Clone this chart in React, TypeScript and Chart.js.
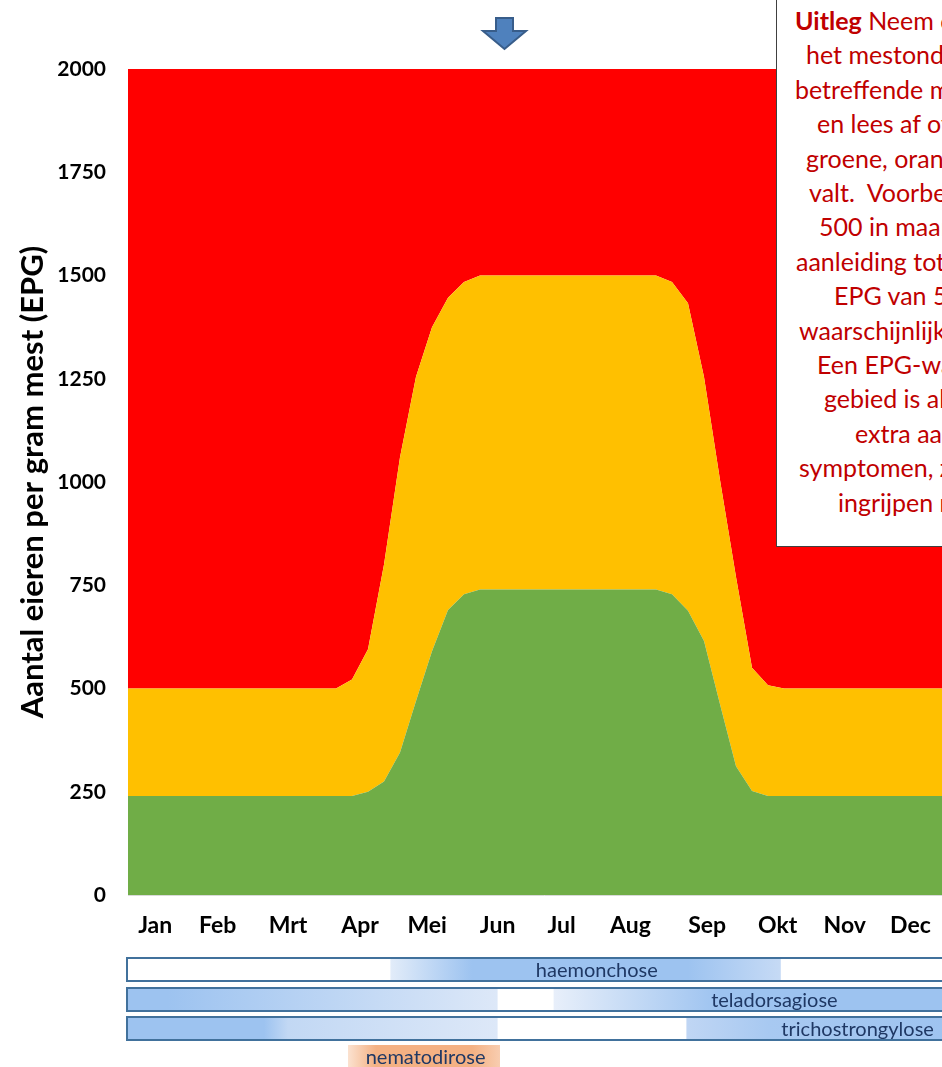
import React, { useEffect, useRef } from 'react';
import { Chart, registerables } from 'chart.js';

Chart.register(...registerables);

// x = week of the year (0..52), y = eggs per gram (EPG)
const weeks = [
  0, 1, 2, 3, 4, 5, 6, 7, 8, 9, 10, 11, 12, 13, 14, 15, 16, 17, 18, 19, 20, 21, 22, 23, 24, 25,
  26, 27, 28, 29, 30, 31, 32, 33, 34, 35, 36, 37, 38, 39, 40, 41, 42, 43, 44, 45, 46, 47, 48, 49, 50, 51, 52,
];
const greenTop = [
  240, 240, 240, 240, 240, 240, 240, 240, 240, 240, 240, 240, 240, 240, 240,
  250, 275, 345, 470, 590, 690, 728,
  740, 740, 740, 740, 740, 740, 740, 740, 740, 740, 740, 740,
  728, 688, 615, 462, 312, 252,
  240, 240, 240, 240, 240, 240, 240, 240, 240, 240, 240, 240, 240,
];
const orangeTop = [
  500, 500, 500, 500, 500, 500, 500, 500, 500, 500, 500, 500, 500, 500,
  522, 595, 800, 1060, 1255, 1375, 1446, 1484,
  1500, 1500, 1500, 1500, 1500, 1500, 1500, 1500, 1500, 1500, 1500, 1500,
  1484, 1433, 1254, 1005, 770, 550, 508,
  500, 500, 500, 500, 500, 500, 500, 500, 500, 500, 500, 500,
];
const redTop = [
  2000, 2000, 2000, 2000, 2000, 2000, 2000, 2000, 2000, 2000, 2000, 2000, 2000, 2000, 2000, 2000, 2000, 2000,
  2000, 2000, 2000, 2000, 2000, 2000, 2000, 2000, 2000, 2000, 2000, 2000, 2000, 2000, 2000, 2000, 2000, 2000,
  2000, 2000, 2000, 2000, 2000, 2000, 2000, 2000, 2000, 2000, 2000, 2000, 2000, 2000, 2000, 2000, 2000,
];

const months = ['Jan', 'Feb', 'Mrt', 'Apr', 'Mei', 'Jun', 'Jul', 'Aug', 'Sep', 'Okt', 'Nov', 'Dec'];
const monthTickWeeks = [1.7, 5.6, 10.0, 14.5, 18.7, 23.1, 27.1, 31.4, 36.2, 40.6, 44.8, 48.9];

const yTickStep = 250;
const yMax = 2000;

// periods of the worm diseases, in weeks, with gradient stops [week, colour]
const haemonchoseBands: [number, string][][] = [
  [[16.4, '#E2ECF9'], [21.5, '#9DC3F0'], [35, '#9DC3F0'], [40.8, '#C6DAF5']],
];
const teladorsagioseBands: [number, string][][] = [
  [[0, '#9DC3F0'], [2.5, '#9DC3F0'], [23.1, '#DDE8F8']],
  [[26.6, '#E8EFFA'], [37, '#9DC3F0'], [52, '#9DC3F0']],
];
const trichostrongyloseBands: [number, string][][] = [
  [[0, '#9DC3F0'], [8.5, '#9DC3F0'], [10, '#C2D8F4'], [23.1, '#DDE8F8']],
  [[34.9, '#C0D6F4'], [40, '#A8C9F1'], [52, '#9DC3F0']],
];
const nematodiroseBands: [number, string][][] = [
  [[13.75, '#FBE2D0'], [15.5, '#F4B183'], [21.5, '#F4B183'], [23.25, '#F8CDB0']],
];
const periodLabels = ['haemonchose', 'teladorsagiose', 'trichostrongylose', 'nematodirose'];
const periodLabelWeeks = [29.3, 40.4, 45.6, 18.6];

const uitlegLines = [
  'het mestonderzoek, zoek de',
  'betreffende maand op de X-as',
  'en lees af of de waarde in het',
  'groene, oranje of rode gebied',
  'valt.  Voorbeeld: een EPG van',
  '500 in maart of oktober is',
  'aanleiding tot actie, terwijl een',
  'EPG van 500 in juli',
  'waarschijnlijk geen probleem is.',
  'Een EPG-waarde in het oranje',
  'gebied is altijd aanleiding tot',
  'extra aandacht; bij',
  'symptomen, zoals diarree, is',
  'ingrijpen noodzakelijk.',
];
const uitlegIndents = [18, 29, 18, 40, 29, 32, 42, 19, 57, 22, 40, 47, 78, 22, 61];

export default function App() {
  const ref = useRef<HTMLCanvasElement>(null);

  useEffect(() => {
    const canvas = ref.current;
    if (!canvas) return;
    Chart.defaults.font.family = 'Lato, "Open Sans", sans-serif';

    const barsPlugin = {
      id: 'periodBars',
      afterDraw(chart: any) {
        const { ctx, chartArea, scales } = chart;
        const xs = scales.x;
        const rows = [
          { bands: haemonchoseBands, dy: 63, h: 23, border: true },
          { bands: teladorsagioseBands, dy: 93, h: 23, border: true },
          { bands: trichostrongyloseBands, dy: 122, h: 23, border: true },
          { bands: nematodiroseBands, dy: 150, h: 24, border: false },
        ];
        ctx.save();
        rows.forEach((row, r) => {
          const top = chartArea.bottom + row.dy;
          row.bands.forEach((stops) => {
            const x0 = xs.getPixelForValue(stops[0][0]);
            const x1 = xs.getPixelForValue(stops[stops.length - 1][0]);
            const g = ctx.createLinearGradient(x0, 0, x1, 0);
            stops.forEach(([w, c]) => {
              g.addColorStop(Math.min(1, Math.max(0, (xs.getPixelForValue(w) - x0) / (x1 - x0))), c);
            });
            ctx.fillStyle = g;
            if (row.border) ctx.fillRect(x0, top + 1, x1 - x0, row.h - 2);
            else ctx.fillRect(x0, top, x1 - x0, row.h);
          });
          if (row.border) {
            const left = xs.getPixelForValue(0) - 1;
            const right = xs.getPixelForValue(52) + 1;
            ctx.strokeStyle = '#41719C';
            ctx.lineWidth = 2;
            ctx.strokeRect(left, top, right - left, row.h);
          }
          ctx.fillStyle = '#1F3864';
          ctx.font = '20px Lato, "Open Sans", sans-serif';
          ctx.textAlign = 'center';
          ctx.textBaseline = 'middle';
          ctx.fillText(periodLabels[r], xs.getPixelForValue(periodLabelWeeks[r]), top + row.h / 2 + 1);
        });
        ctx.restore();
      },
    };

    const toPoints = (vals: number[]) => vals.map((v, i) => ({ x: weeks[i], y: v }));
    const area = (label: string, vals: number[], fill: any, color: string) => ({
      label,
      data: toPoints(vals),
      fill,
      backgroundColor: color,
      borderColor: 'rgba(0,0,0,0)',
      borderWidth: 0,
      pointRadius: 0,
      tension: 0,
    });

    const chart = new Chart(canvas, {
      type: 'line',
      data: {
        datasets: [
          area('groen', greenTop, 'origin', '#70AD47'),
          area('oranje', orangeTop, '-1', '#FFC000'),
          area('rood', redTop, '-1', '#FF0000'),
        ],
      },
      options: {
        animation: false,
        responsive: false,
        devicePixelRatio: 1,
        layout: { padding: { top: 69, right: 10, bottom: 122, left: 0 } },
        plugins: {
          legend: { display: false },
          tooltip: { enabled: false },
        },
        scales: {
          x: {
            type: 'linear',
            min: 0,
            max: 52,
            grid: { display: false, drawTicks: false },
            border: { display: true, color: '#D9D9D9', width: 1 },
            afterBuildTicks: (axis: any) => {
              axis.ticks = monthTickWeeks.map((v) => ({ value: v }));
            },
            afterFit: (axis: any) => {
              axis.height = 50;
            },
            ticks: {
              autoSkip: false,
              maxRotation: 0,
              padding: 17,
              color: '#000000',
              font: { size: 23, weight: 'bold' },
              callback: (_v: any, i: number) => months[i],
            },
          },
          y: {
            min: 0,
            max: yMax,
            grid: { display: false, drawTicks: false },
            border: { display: true, color: '#D9D9D9', width: 1 },
            afterFit: (axis: any) => {
              axis.width = 128;
            },
            ticks: {
              stepSize: yTickStep,
              padding: 22,
              color: '#000000',
              font: { size: 21, weight: 'bold' },
              callback: (v: any) => String(v),
            },
            title: {
              display: true,
              text: 'Aantal eieren per gram mest (EPG)',
              color: '#000000',
              font: { size: 31, weight: 'bold' },
              padding: { top: 14, bottom: 0 },
            },
          },
        },
      },
      plugins: [barsPlugin],
    });
    return () => chart.destroy();
  }, []);

  return (
    <div
      style={{
        position: 'fixed',
        left: 0,
        top: 0,
        width: 942,
        height: 1067,
        overflow: 'hidden',
        background: '#ffffff',
      }}
    >
      <canvas ref={ref} width={970} height={1067} style={{ position: 'absolute', left: 0, top: 0 }} />
      <svg
        width={54}
        height={50}
        style={{ position: 'absolute', left: 478, top: 5 }}
        viewBox="0 0 54 50"
      >
        <polygon
          points="18,13 35,13 35,26 48,26 26.5,44 5,26 18,26"
          fill="#4F81BD"
          stroke="#385D8A"
          strokeWidth={2}
          strokeLinejoin="miter"
        />
      </svg>
      <div
        style={{
          position: 'absolute',
          left: 776,
          top: -1,
          width: 420,
          height: 548,
          boxSizing: 'border-box',
          border: '1px solid #404040',
          background: '#ffffff',
          color: '#C00000',
          fontFamily: 'Lato, "Open Sans", sans-serif',
          fontSize: 25,
          lineHeight: '34.4px',
          paddingTop: 3,
          whiteSpace: 'pre',
        }}
      >
        <div style={{ paddingLeft: uitlegIndents[0] }}>
          <b>Uitleg</b> Neem de EPG-waarde uit
        </div>
        {uitlegLines.map((line, i) => (
          <div key={i} style={{ paddingLeft: uitlegIndents[i + 1] }}>
            {line}
          </div>
        ))}
      </div>
    </div>
  );
}
